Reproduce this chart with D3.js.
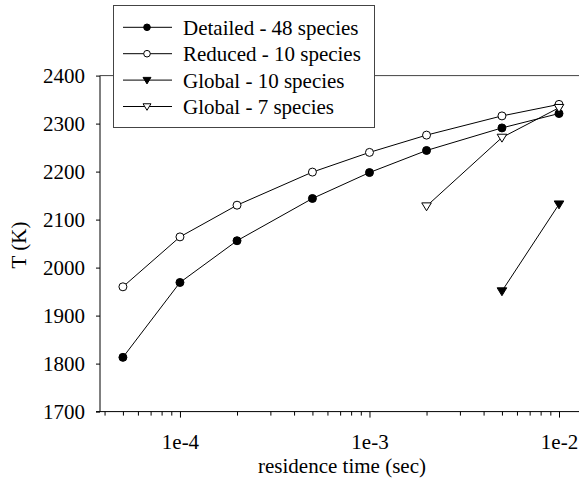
<!DOCTYPE html>
<html>
<head>
<meta charset="utf-8">
<script src="https://cdn.jsdelivr.net/npm/d3@7"></script>
<style>
  body { margin: 0; background: #fff; }
  svg text { font-family: "Liberation Serif", "DejaVu Serif" !important; }
</style>
</head>
<body>
<div id="chart"></div>
<script>
// residence time (sec)
const times = [5e-5, 1e-4, 2e-4, 5e-4, 1e-3, 2e-3, 5e-3, 1e-2]
const detailed = [1813, 1969, 2056, 2144, 2198, 2244, 2291, 2321]
const reduced = [1960, 2064, 2130, 2199, 2240, 2276, 2316, 2340]
const global10Times = [5e-3, 1e-2]
const global10 = [1951, 2132]
const global7Times = [2e-3, 5e-3, 1e-2]
const global7 = [2128, 2271, 2333]

const yTicks = [1700, 1800, 1900, 2000, 2100, 2200, 2300, 2400]
const xMajor = [1e-4, 1e-3, 1e-2]
const xLabels = ["1e-4", "1e-3", "1e-2"]

const width = 579, height = 482
const fs = 21

const x = d3.scaleLog().domain([3.785e-5, 0.01275]).range([100, 579])
const y = d3.scaleLinear().domain([1700, 2400]).range([411.6, 75.6])

const svg = d3.select("#chart").append("svg")
  .attr("width", width)
  .attr("height", height)

// minor ticks every 1..9 per decade
const xMinor = []
for (let e = -5; e <= -2; e++) {
  for (let m = 2; m <= 9; m++) {
    const v = m * Math.pow(10, e)
    if (v >= 3.785e-5 && v <= 0.01275) xMinor.push(v)
  }
}

// x axis
svg.append("g")
  .attr("transform", `translate(0,${y(1700)})`)
  .call(d3.axisBottom(x).tickValues(xMinor).tickSize(4).tickFormat(""))
  .call(g => g.select(".domain").remove())
  .call(g => g.selectAll("line").attr("stroke", "#000"))

svg.append("g")
  .attr("transform", `translate(0,${y(1700)})`)
  .call(d3.axisBottom(x).tickValues(xMajor).tickSize(6).tickPadding(16)
    .tickFormat((d, i) => xLabels[i]))
  .call(g => g.select(".domain").remove())
  .call(g => g.selectAll("line").attr("stroke", "#000"))
  .call(g => g.selectAll("text").attr("font-size", fs).attr("fill", "#000"))

svg.append("line")
  .attr("x1", 96).attr("x2", 579)
  .attr("y1", y(1700)).attr("y2", y(1700))
  .attr("stroke", "#000")

// y axis
svg.append("g")
  .attr("transform", `translate(100,0)`)
  .call(d3.axisLeft(y).tickValues(yTicks).tickSize(4).tickPadding(11).tickFormat(d3.format("d")))
  .call(g => g.select(".domain").remove())
  .call(g => g.selectAll("line").attr("stroke", "#000"))
  .call(g => g.selectAll("text").attr("font-size", fs).attr("fill", "#000"))

svg.append("line")
  .attr("x1", 100).attr("x2", 100)
  .attr("y1", y(2400)).attr("y2", y(1700))
  .attr("stroke", "#000")

// top frame
svg.append("line")
  .attr("x1", 100).attr("x2", 579)
  .attr("y1", y(2400)).attr("y2", y(2400))
  .attr("stroke", "#444")

// axis titles
svg.append("text")
  .attr("x", 342).attr("y", 473)
  .attr("text-anchor", "middle")
  .attr("font-size", fs)
  .text("residence time (sec)")

svg.append("text")
  .attr("transform", `translate(26,245) rotate(-90)`)
  .attr("text-anchor", "middle")
  .attr("font-size", fs)
  .text("T (K)")

const line = d3.line().x(d => x(d[0])).y(d => y(d[1]))

const series = [
  { name: "Detailed - 48 species", t: times, v: detailed, shape: "circle", fill: "#000" },
  { name: "Reduced - 10 species", t: times, v: reduced, shape: "circle", fill: "#fff" },
  { name: "Global - 10 species", t: global10Times, v: global10, shape: "tri", fill: "#000" },
  { name: "Global - 7 species", t: global7Times, v: global7, shape: "tri", fill: "#fff" }
]

const marker = (g, s, cx, cy, r) => {
  if (s.shape === "circle") {
    g.append("circle").attr("cx", cx).attr("cy", cy).attr("r", r)
      .attr("fill", s.fill).attr("stroke", "#000").attr("stroke-width", 1)
  } else {
    const w = r * 1.2, h = r * 1.1
    g.append("path")
      .attr("d", `M${cx - w},${cy - h * 0.75} L${cx + w},${cy - h * 0.75} L${cx},${cy + h * 1.05} Z`)
      .attr("fill", s.fill).attr("stroke", "#000").attr("stroke-width", 1)
  }
}

const plot = svg.append("g")
series.forEach(s => {
  const pts = s.t.map((t, i) => [t, s.v[i]])
  plot.append("path").datum(pts)
    .attr("d", line)
    .attr("fill", "none")
    .attr("stroke", "#000")
    .attr("stroke-width", 1)
})
series.forEach(s => {
  s.t.forEach((t, i) => marker(plot, s, x(t), y(s.v[i]), 4))
})

// legend
const lg = svg.append("g")
lg.append("rect")
  .attr("x", 113.5).attr("y", 5.5)
  .attr("width", 261).attr("height", 122)
  .attr("fill", "#fff").attr("stroke", "#444")

series.forEach((s, i) => {
  const cy = 27.3 + i * 26.4
  lg.append("line").attr("x1", 123).attr("x2", 172)
    .attr("y1", cy).attr("y2", cy).attr("stroke", "#000")
  marker(lg, s, 147, cy, 3.3)
  lg.append("text").attr("x", 183).attr("y", cy + 7.5)
    .attr("font-size", fs)
    .text(s.name)
})
</script>
</body>
</html>
